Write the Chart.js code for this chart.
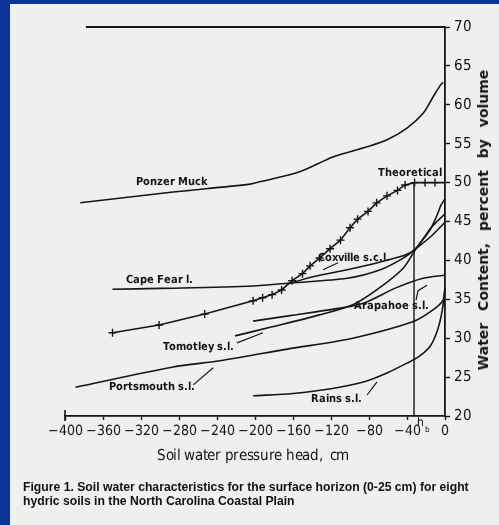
<!DOCTYPE html>
<html>
<head>
<meta charset="utf-8">
<script src="https://cdn.jsdelivr.net/npm/chart.js@4.4.1/dist/chart.umd.min.js"></script>
<style>
  @font-face {
    font-family: 'PlotNarrow';
    src: local('Liberation Sans Narrow'), local('LiberationSansNarrow'), local('LiberationSansNarrow-Regular'),
         local('DejaVu Sans Condensed'), local('DejaVuSansCondensed');
  }
  @font-face {
    font-family: 'PlotNarrow';
    font-weight: bold;
    src: local('Liberation Sans Narrow Bold'), local('LiberationSansNarrow-Bold'),
         local('DejaVu Sans Condensed Bold'), local('DejaVuSansCondensed-Bold');
  }
  html, body { margin: 0; padding: 0; }
  body { width: 499px; height: 525px; background: #0a3399; position: relative; overflow: hidden; }
  #paper { position: absolute; left: 10px; top: 4px; right: 0; bottom: 0; background: #efefef; }
  #wrap { position: absolute; left: 0; top: 0; width: 499px; height: 525px; }
  .ytitle {
    position: absolute; left: 483px; top: 220px;
    transform: translate(-50%, -50%) rotate(-90deg);
    white-space: nowrap; color: #151515;
    font: bold 14px 'DejaVu Sans', sans-serif; word-spacing: 7px;
  }
  .xtitle {
    position: absolute; left: 253px; top: 455px; transform: translate(-50%, -50%);
    white-space: nowrap; color: #151515;
    font: 14.5px 'PlotNarrow', 'Roboto', sans-serif; letter-spacing: -0.3px;
  }
  .caption {
    position: absolute; left: 23px; top: 480px; color: #111;
    font: bold 12.2px 'Liberation Sans', Arial, sans-serif; line-height: 14px; white-space: nowrap;
  }
</style>
</head>
<body>
<div id="paper"></div>
<div id="wrap"><canvas id="chart" width="499" height="525"></canvas></div>
<div class="ytitle">Water Content, percent by volume</div>
<div class="xtitle">Soil water pressure head,&nbsp; cm</div>
<div class="caption">Figure 1. Soil water characteristics for the surface horizon (0-25 cm) for eight<br>hydric soils in the North Carolina Coastal Plain</div>
<script>
/* ---- values: [pressure head cm, water content %] ---- */
const ponzerMuck = [[-384, 47.4], [-293, 48.7], [-205, 49.8], [-195, 50.1], [-153, 51.4], [-118, 53.3],
    [-82, 54.6], [-61, 55.5], [-40, 57.0], [-23, 58.9], [-12.6, 61.0], [-5, 62.5], [-2, 62.9]];
const theoretical = [[-350, 30.7], [-301, 31.7], [-253, 33.1], [-202, 34.8], [-192, 35.2], [-182, 35.6],
    [-172, 36.2], [-161, 37.4], [-150, 38.3], [-142, 39.3], [-132, 40.3], [-121, 41.5], [-110, 42.6],
    [-100, 44.2], [-92, 45.3], [-81, 46.3], [-72, 47.4], [-61, 48.3], [-50, 49.0], [-42, 49.7],
    [-32, 50.0], [-21, 50.0], [-10.5, 50.0], [0, 50.0]];
const capeFear = [[-350, 36.3], [-300, 36.4], [-202, 36.7], [-163, 37.1], [-103, 37.7], [-68, 38.8],
    [-44, 40.3], [-29.5, 41.6], [-14.7, 43.1], [0, 44.9]];
const coxville = [[-165, 37.0], [-139, 37.9], [-103, 38.8], [-68, 39.8], [-40, 40.8], [-29.5, 41.7],
    [-14.7, 44.2], [0, 46.0]];
const tomotley = [[-221, 30.3], [-184, 31.4], [-132, 33.0], [-97, 34.3], [-72, 36.2], [-44, 39.0],
    [-29.5, 41.7], [-15.8, 43.9], [-8.4, 45.8], [-4.2, 47.1], [0, 47.9]];
const arapahoe = [[-202, 32.2], [-163, 32.9], [-114, 33.8], [-86, 34.5], [-51, 36.5], [-23, 37.7], [0, 38.1]];
const portsmouth = [[-389, 23.7], [-286, 26.3], [-237, 27.1], [-166, 28.6], [-97, 30.0], [-34, 32.1],
    [-13, 33.6], [-2, 34.9], [0, 36.5]];
const rains = [[-202, 22.6], [-160, 22.9], [-120, 23.5], [-85, 24.4], [-60, 25.6], [-40, 26.8],
    [-28, 27.6], [-16, 28.9], [-8, 31.0], [-3, 33.5], [0, 36.5]];
const topLine = [[-378, 70], [0, 70]];
const hbLine = [[-32.6, 20], [-32.6, 50]];

// short leader strokes from labels to curves
const leaders = [
    [[-128.4, 38.8], [-112.6, 39.7]],
    [[-219, 29.4], [-191.6, 30.7]],
    [[-265, 24.0], [-244, 26.2]],
    [[-82, 22.7], [-71.6, 24.4]],
    [[-30.5, 34.9], [-28.4, 36.1], [-19, 36.8]]
];

const curveLabels = ['Ponzer Muck', 'Theoretical', 'Coxville s.c.l.', 'Cape Fear l.',
    'Arapahoe s.l.', 'Tomotley s.l.', 'Portsmouth s.l.', 'Rains s.l.'];
const labelAnchors = [[-287, 50.1], [-36.8, 51.2], [-96, 40.3], [-301, 37.4],
    [-56, 34.1], [-260, 28.9], [-308, 23.7], [-114, 22.2]];

const INK = '#151515';
const NARROW = "'PlotNarrow', 'Roboto', sans-serif";
const pts = arr => arr.map(([x, y]) => ({ x, y }));

function curve(data, extra) {
    return Object.assign({
        data: pts(data),
        borderColor: INK,
        borderWidth: 1.6,
        pointRadius: 0,
        tension: 0.3,
        fill: false,
        clip: false
    }, extra || {});
}

const datasets = [
    curve(topLine, { tension: 0, borderWidth: 1.8 }),
    curve(hbLine, { tension: 0, borderWidth: 1.4 }),
    curve(ponzerMuck),
    curve(capeFear),
    curve(coxville),
    curve(tomotley),
    curve(arapahoe),
    curve(portsmouth),
    curve(rains),
    curve(theoretical, {
        tension: 0,
        pointStyle: 'cross',
        pointRadius: ctx => (ctx.dataIndex === theoretical.length - 1 ? 0 : 4),
        pointBorderColor: INK,
        pointBorderWidth: 1.4
    })
].concat(leaders.map(l => curve(l, { tension: 0, borderWidth: 1.2 })));

const labelPlugin = {
    id: 'curveLabels',
    afterDatasetsDraw(chart) {
        const { ctx, scales: { x, y } } = chart;
        ctx.save();
        ctx.fillStyle = INK;
        ctx.font = 'bold 11px ' + NARROW;
        ctx.textAlign = 'center';
        ctx.textBaseline = 'middle';
        curveLabels.forEach((t, i) => {
            ctx.fillText(t, x.getPixelForValue(labelAnchors[i][0]), y.getPixelForValue(labelAnchors[i][1]));
        });
        // h_b marker under the axis, right of the -40 label
        const hx = x.getPixelForValue(-32.6);
        ctx.font = '12px ' + NARROW;
        ctx.fillText('h', hx + 6, y.bottom + 7);
        ctx.font = '8px ' + NARROW;
        ctx.fillText('b', hx + 13, y.bottom + 14);
        // cross tick at -400
        const x0 = x.getPixelForValue(-400);
        ctx.strokeStyle = INK;
        ctx.lineWidth = 1.6;
        ctx.beginPath();
        ctx.moveTo(x0, y.bottom - 6);
        ctx.lineTo(x0, y.bottom + 5);
        ctx.stroke();
        ctx.restore();
    }
};

function draw() {
    new Chart(document.getElementById('chart'), {
        type: 'line',
        data: { datasets },
        options: {
            responsive: false,
            animation: false,
            layout: { padding: { left: 65, top: 27, right: 0, bottom: 0 } },
            plugins: { legend: { display: false }, tooltip: { enabled: false } },
            scales: {
                x: {
                    type: 'linear',
                    position: 'bottom',
                    min: -400,
                    max: 0,
                    afterFit: s => { s.height = 109; },
                    grid: { drawOnChartArea: false, drawTicks: true, tickLength: 4, tickColor: INK, tickWidth: 1.4 },
                    border: { display: true, color: INK, width: 1.8 },
                    ticks: {
                        stepSize: 40,
                        autoSkip: false,
                        padding: 3,
                        color: INK,
                        font: { family: NARROW, size: 14 },
                        maxRotation: 0,
                        callback: v => String(v).replace('-', '\u2212')
                    }
                },
                y: {
                    type: 'linear',
                    position: 'right',
                    min: 20,
                    max: 70,
                    afterFit: s => { s.width = 54; },
                    grid: { drawOnChartArea: false, drawTicks: true, tickLength: 5, tickColor: INK, tickWidth: 1.4 },
                    border: { display: true, color: INK, width: 1.8 },
                    ticks: { stepSize: 5, autoSkip: false, padding: 4, color: INK, font: { family: NARROW, size: 15 } }
                }
            }
        },
        plugins: [labelPlugin]
    });
}

Promise.all([
    document.fonts.load('16px PlotNarrow'),
    document.fonts.load('bold 11px PlotNarrow')
]).then(draw, draw);
</script>
</body>
</html>
